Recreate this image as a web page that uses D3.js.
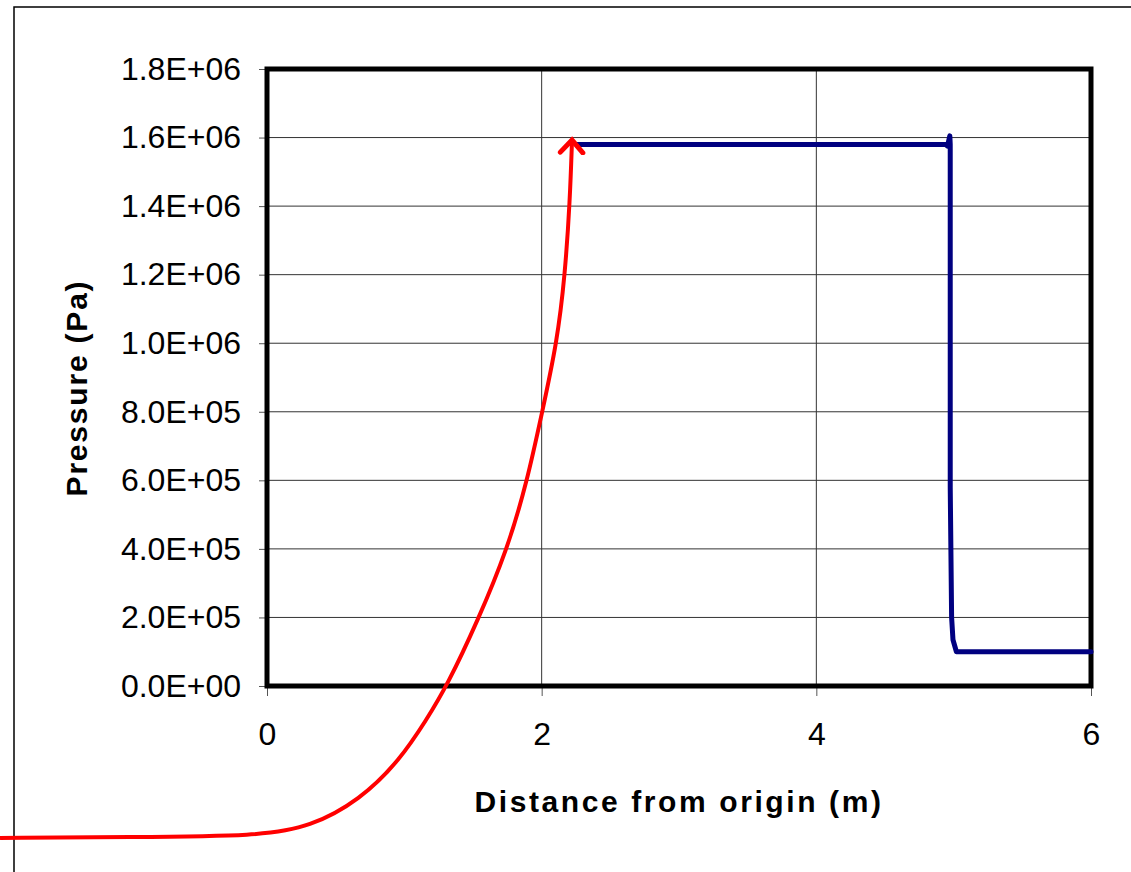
<!DOCTYPE html>
<html>
<head>
<meta charset="utf-8">
<script src="https://cdn.jsdelivr.net/npm/d3@7"></script>
<style>
  body { margin: 0; background: #fff; }
  svg { display: block; }
  text { font-family: "Liberation Sans", Arial, sans-serif; fill: #000; }
</style>
</head>
<body>
<div id="chart"></div>
<script>
var regionWidth = 1131
var regionHeight = 872
var margin = { top: 69, left: 267, right: 40, bottom: 186 }
var plotWidth = regionWidth - margin.left - margin.right
var plotHeight = regionHeight - margin.top - margin.bottom

// x ticks (m) and y ticks (Pa)
var xTicks = [0, 2, 4, 6]
var yTicks = [0, 2e5, 4e5, 6e5, 8e5, 1.0e6, 1.2e6, 1.4e6, 1.6e6, 1.8e6]

// pressure profile (blue)
var profileX = [2.257, 4.94, 4.955, 4.972, 4.975, 4.975, 4.985, 4.995, 5.02, 6.0]
var profileP = [1.58e6, 1.58e6, 1.575e6, 1.605e6, 1.58e6, 5.8e5, 2.0e5, 1.35e5, 1.0e5, 1.0e5]

// hand drawn arrow (red), runs outside the plot on purpose
var arrowX = [-1.944, -0.998, -0.051, 0.313, 0.677, 0.968, 1.160, 1.310, 1.537, 1.748, 1.893, 2.002, 2.111, 2.170, 2.206, 2.221]
var arrowP = [-4.434e5, -4.405e5, -4.376e5, -4.113e5, -3.326e5, -2.159e5, -9.92e4, 0, 1.925e5, 3.968e5, 5.951e5, 7.964e5, 1.0006e6, 1.199e6, 1.4178e6, 1.5928e6]

var svg = d3.select('#chart').append('svg')
    .attr('width', regionWidth)
    .attr('height', regionHeight)

// outer chart-area border (cropped at right and bottom)
svg.append('path')
    .attr('d', 'M14,' + regionHeight + 'V7H' + regionWidth)
    .attr('fill', 'none')
    .attr('stroke', '#000')
    .attr('stroke-width', 1.5)

var scaleX = d3.scaleLinear().domain([0, 6]).range([0, plotWidth])
var scaleY = d3.scaleLinear().domain([0, 1.8e6]).range([plotHeight, 0])

function sci(v) {
    if (v == 0) return '0.0E+00'
    var e = Math.floor(Math.log10(v) + 1e-9)
    var m = v / Math.pow(10, e)
    return m.toFixed(1) + 'E+' + (e < 10 ? '0' : '') + e
}

var g = svg.append('g')
    .attr('transform', 'translate(' + margin.left + ',' + margin.top + ')')

// gridlines
g.append('g').selectAll('line').data(yTicks.slice(1, -1)).enter().append('line')
    .attr('x1', 0).attr('x2', plotWidth)
    .attr('y1', d => scaleY(d)).attr('y2', d => scaleY(d))
    .attr('stroke', '#333').attr('stroke-width', 1)
g.append('g').selectAll('line').data(xTicks.slice(1, -1)).enter().append('line')
    .attr('y1', 0).attr('y2', plotHeight)
    .attr('x1', d => scaleX(d)).attr('x2', d => scaleX(d))
    .attr('stroke', '#333').attr('stroke-width', 1)

// axes
var yAxis = g.append('g')
    .call(d3.axisLeft(scaleY).tickValues(yTicks).tickFormat(sci).tickSize(8).tickPadding(18))
var xAxis = g.append('g')
    .attr('transform', 'translate(0,' + plotHeight + ')')
    .call(d3.axisBottom(scaleX).tickValues(xTicks).tickFormat(d3.format('d')).tickSize(10).tickPadding(26))
yAxis.select('.domain').remove()
xAxis.select('.domain').remove()
svg.selectAll('.tick line').attr('stroke', '#555').attr('stroke-width', 1)
svg.selectAll('.tick text')
    .style('font-family', '"Liberation Sans", Arial, sans-serif')
    .style('font-size', '32px')
    .attr('fill', '#000')
yAxis.selectAll('.tick text').attr('dy', '0.32em')

// plot frame
g.append('rect')
    .attr('x', 0).attr('y', 0)
    .attr('width', plotWidth).attr('height', plotHeight)
    .attr('fill', 'none')
    .attr('stroke', '#000')
    .attr('stroke-width', 5)

// blue pressure line
var profile = profileX.map((x, i) => ({ x: x, p: profileP[i] }))
g.append('path')
    .datum(profile)
    .attr('fill', 'none')
    .attr('stroke', '#000080')
    .attr('stroke-width', 5)
    .attr('stroke-linejoin', 'round')
    .attr('stroke-linecap', 'round')
    .attr('d', d3.line().x(d => scaleX(d.x)).y(d => scaleY(d.p)))

// red arrow
svg.append('defs').append('marker')
    .attr('id', 'head')
    .attr('viewBox', '-12 -12 24 24')
    .attr('markerUnits', 'userSpaceOnUse')
    .attr('markerWidth', 30).attr('markerHeight', 30)
    .attr('refX', 0).attr('refY', 0)
    .attr('orient', 'auto')
    .append('path')
    .attr('d', 'M-10,-9L0,0L-10,9')
    .attr('fill', 'none')
    .attr('stroke', '#ff0000')
    .attr('stroke-width', 4)
    .attr('stroke-linecap', 'round')
    .attr('stroke-linejoin', 'miter')

var arrow = arrowX.map((x, i) => ({ x: x, p: arrowP[i] }))
g.append('path')
    .datum(arrow)
    .attr('fill', 'none')
    .attr('stroke', '#ff0000')
    .attr('stroke-width', 4)
    .attr('marker-end', 'url(#head)')
    .attr('d', d3.line().curve(d3.curveBasis).x(d => scaleX(d.x)).y(d => scaleY(d.p)))

// axis titles
svg.append('text')
    .attr('x', 679).attr('y', 812)
    .attr('text-anchor', 'middle')
    .style('font-size', '30px')
    .style('font-weight', 'bold')
    .style('letter-spacing', '2.6px')
    .text('Distance from origin (m)')

svg.append('text')
    .attr('transform', 'translate(87,388) rotate(-90)')
    .attr('text-anchor', 'middle')
    .style('font-size', '30px')
    .style('font-weight', 'bold')
    .style('letter-spacing', '1.8px')
    .text('Pressure (Pa)')
</script>
</body>
</html>
